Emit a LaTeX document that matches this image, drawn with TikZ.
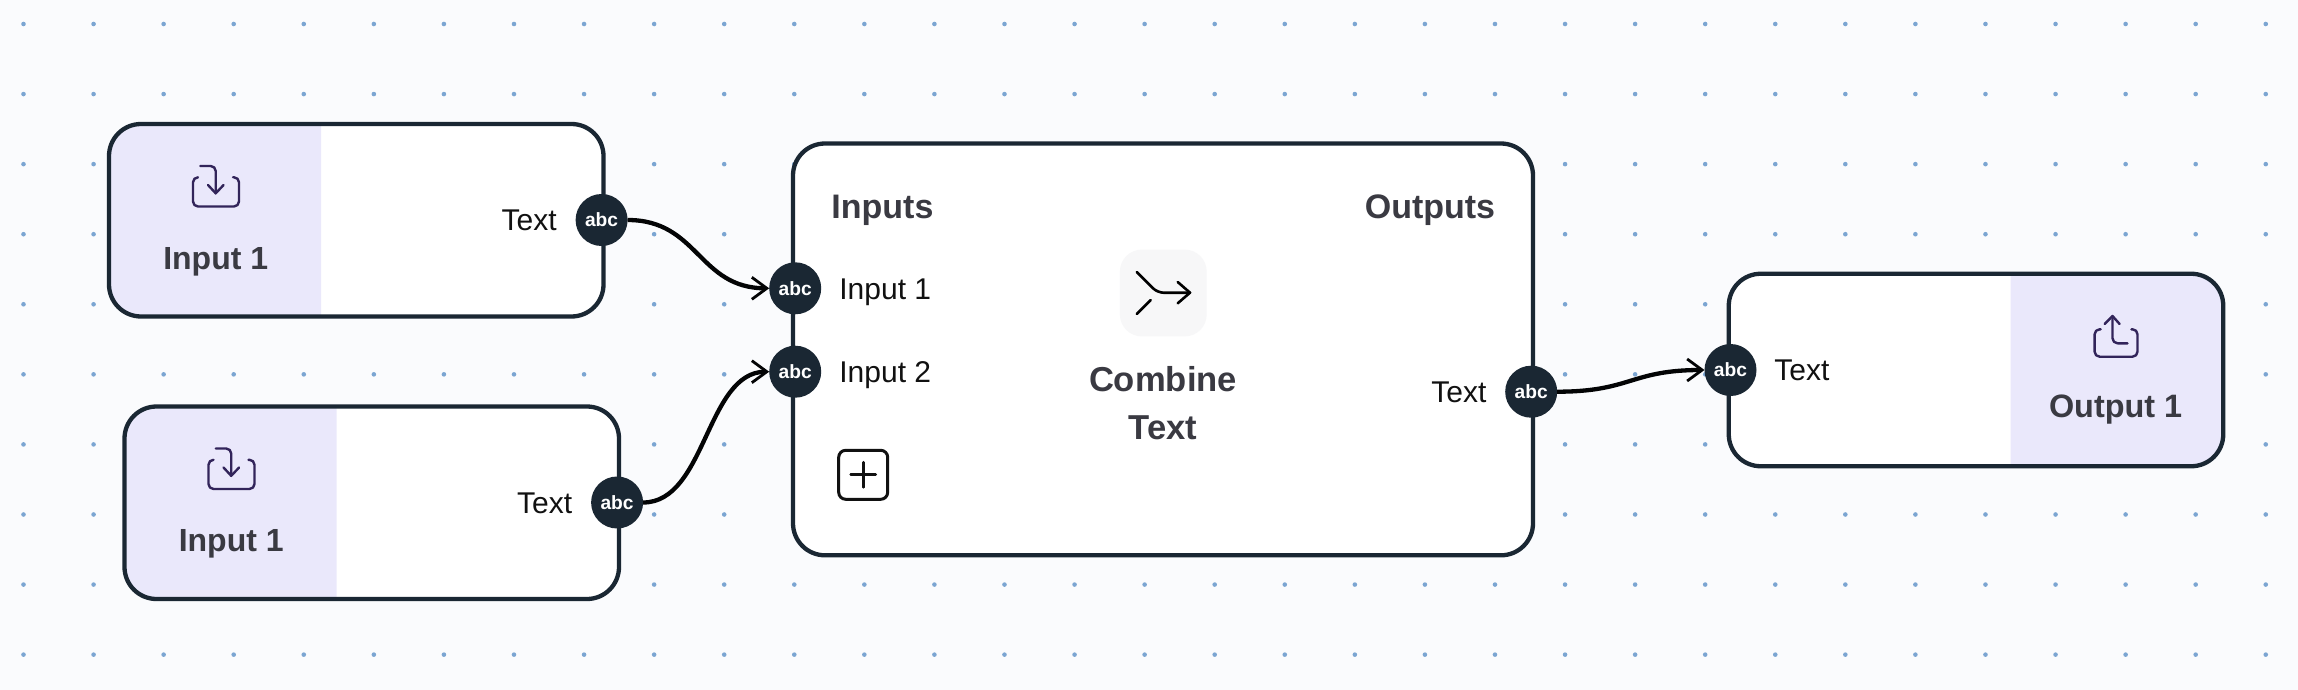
\documentclass[tikz,border=0pt]{standalone}
\usepackage{fontspec}
\setmainfont{Liberation Sans}
\usetikzlibrary{arrows.meta}
\definecolor{canvasbg}{RGB}{250, 251, 253}
\definecolor{griddot}{RGB}{123, 165, 210}
\definecolor{edgedark}{RGB}{26, 39, 51}
\definecolor{bandfill}{RGB}{234, 232, 251}
\definecolor{iconpurple}{RGB}{50, 36, 90}
\definecolor{titlegrey}{RGB}{58, 58, 66}
\definecolor{labelblack}{RGB}{17, 17, 17}
\definecolor{iconbg}{RGB}{247, 247, 248}
\tikzset{
    nodebody/.style={rectangle, rounded corners=16pt, fill=white, outer sep=0pt, inner sep=0pt, minimum width=247.25pt, minimum height=96.25pt},
    bodyedge/.style={draw=edgedark, line width=2.15pt, rounded corners=16pt},
    portdot/.style={circle, fill=edgedark, text=white, inner sep=0pt, outer sep=0pt, minimum size=26pt, font=\bfseries\fontsize{9.6}{11}\selectfont},
    boxtitle/.style={inner sep=0pt, text=titlegrey, font=\bfseries\fontsize{16}{24}\selectfont},
    portlabel/.style={inner sep=0pt, text=labelblack, font=\fontsize{15}{17}\selectfont},
    iconline/.style={draw=iconpurple, line width=1.2pt, line cap=round, line join=round},
    mergeline/.style={draw=black, line width=1.3pt, line cap=round, line join=round},
    wire/.style={draw=black!90!edgedark, line width=2.15pt, -{Straight Barb[length=7.5pt,width=11pt,line width=1.4pt]}}
}
\begin{document}
\begin{tikzpicture}[x=0.5pt, y=-0.5pt]
    \useasboundingbox (0,0) rectangle (2298,690);
    \fill[canvasbg] (0,0) rectangle (2298,690);
    % Dotted canvas
    \foreach \col in {0,...,32}
        \foreach \row in {0,...,9}
            \fill[griddot] ({23.5+70.07*\col},{24+70.07*\row}) circle (1.15pt);

    % Input nodes
    \foreach \inname/\ox/\oy in {inputA/0/0, inputB/15.5/282.5} {
        \begin{scope}[shift={(\ox,\oy)}]
            \node[nodebody] (\inname) at (356.25,220.25) {};
            \fill[bandfill] (321,124) [rounded corners=16pt] -- (109,124) -- (109,316.5) [sharp corners] -- (321,316.5) -- cycle;
            \draw[bodyedge] (\inname.north west) rectangle (\inname.south east);
            % Download icon
            \draw[iconline, rounded corners=2.5pt] (198,177.3) -- (193,177.3) -- (193,206.5) -- (239,206.5) -- (239,177.3) -- (233,177.3);
            \draw[iconline, rounded corners=2.5pt] (200.4,166) -- (215.7,166) -- (215.7,193.3);
            \draw[iconline] (208,185) -- (215.7,193.3) -- (223.6,185);
            \node[boxtitle, anchor=base] (\inname title) at (215.7,269.3) {Input 1};
            \node[portlabel, anchor=base east] (\inname label) at (557,230.5) {Text};
            \node[portdot] (\inname port) at (601.6,220) {abc};
        \end{scope}
    }

    % Combine node
    \node[nodebody, minimum width=370pt, minimum height=205.9pt] (combine) at (1163,349.4) {};
    \draw[bodyedge] (combine.north west) rectangle (combine.south east);
    \node[boxtitle, anchor=base west, font=\bfseries\fontsize{17}{24}\selectfont] (inputshead) at (831,218.3) {Inputs};
    \node[boxtitle, anchor=base east, font=\bfseries\fontsize{17}{24}\selectfont] (outputshead) at (1495.5,218.3) {Outputs};
    \node[portdot] (combineportA) at (795.2,288.3) {abc};
    \node[portdot] (combineportB) at (795.2,371.7) {abc};
    \node[portlabel, anchor=base west] (combinelabelA) at (839,299.3) {Input 1};
    \node[portlabel, anchor=base west] (combinelabelB) at (839,382.7) {Input 2};
    \node[portlabel, anchor=base east] (combinelabelout) at (1486.7,402.7) {Text};
    \node[portdot] (combineportout) at (1531.2,391.7) {abc};
    \node[rectangle, fill=iconbg, rounded corners=11pt, minimum size=43.4pt, inner sep=0pt] (mergebg) at (1163.3,293) {};
    % Merge icon
    \draw[mergeline, rounded corners=3pt] (1136.7,272) -- (1157.5,292.7) -- (1190,292.7);
    \draw[mergeline] (1177.7,282) -- (1190,292.7) -- (1177.7,303.3);
    \draw[mergeline] (1150.7,300) -- (1136.7,314);
    \node[boxtitle, anchor=base, align=center, font=\bfseries\fontsize{17.3}{24.1}\selectfont] (combinetitle) at (1163,439.3) {Combine\\Text};
    % Add button
    \node[rectangle, draw=labelblack, line width=1.5pt, rounded corners=3.5pt, minimum size=24.5pt, inner sep=0pt] (addbtn) at (863.2,474.8) {};
    \draw[draw=labelblack, line width=1.4pt, line cap=round] (850.7,474.8) -- (875.7,474.8) (863.2,462.3) -- (863.2,487.3);

    % Output node
    \node[nodebody] (output) at (1976,370) {};
    \fill[bandfill] (2010.7,273.7) [rounded corners=16pt] -- (2223,273.7) -- (2223,466.3) [sharp corners] -- (2010.7,466.3) -- cycle;
    \draw[bodyedge] (output.north west) rectangle (output.south east);
    % Upload icon
    \draw[iconline, rounded corners=2.5pt] (2100.7,329.3) -- (2094.6,329.3) -- (2094.6,356.7) -- (2137.5,356.7) -- (2137.5,329.3) -- (2131.4,329.3);
    \draw[iconline, rounded corners=2.5pt] (2112.5,316) -- (2112.5,343.3) -- (2127.5,343.3);
    \draw[iconline] (2104.6,324) -- (2112.5,316) -- (2119.6,324);
    \node[boxtitle, anchor=base, font=\bfseries\fontsize{16.2}{24}\selectfont] (outputtitle) at (2115.6,417.3) {Output 1};
    \node[portdot] (outputport) at (1730.5,370) {abc};
    \node[portlabel, anchor=base west] (outputlabel) at (1774,380.7) {Text};

    % Wires
    \draw[wire] (inputAport.east) .. controls +(71,0) and +(-71,0) .. (combineportA.west);
    \draw[wire] (inputBport.east) .. controls +(63,0) and +(-63,0) .. (combineportB.west);
    \draw[wire] (combineportout.east) .. controls +(74,0) and +(-74,0) .. (outputport.west);
\end{tikzpicture}
\end{document}
